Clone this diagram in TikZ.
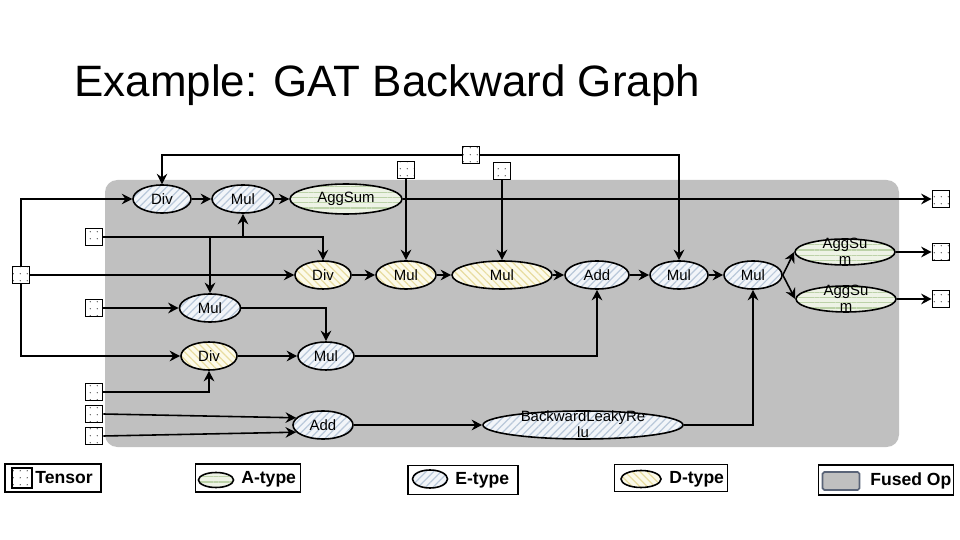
\documentclass[tikz,border=0pt]{standalone}
\usepackage{fontspec}
\setmainfont{Liberation Sans}
\usepackage{tikz}
\usetikzlibrary{shapes,arrows.meta,patterns.meta}

\definecolor{fusedgray}{RGB}{192,192,192}
\definecolor{fusedrim}{RGB}{90,100,120}
\definecolor{eline}{RGB}{185,200,218}
\definecolor{eback}{RGB}{242,245,249}
\definecolor{dline}{RGB}{232,220,160}
\definecolor{dback}{RGB}{252,250,234}
\definecolor{aline}{RGB}{188,210,168}
\definecolor{aback}{RGB}{238,243,230}

\newcommand{\twoline}[2]{\raisebox{-2.5pt}[0pt][0pt]{\begin{tabular}{@{}c@{}}#1\\[-1pt]#2\end{tabular}}}

\tikzset{
	wd/.style={minimum width=#1*0.02cm},
	op/.style={ellipse, draw, line width=0.9pt, inner sep=0pt, minimum height=28*0.02cm, font=\fontsize{8.5}{10}\selectfont},
	etype/.style={op, preaction={fill=eback}, pattern={Lines[angle=45,distance=3pt,line width=0.7pt]}, pattern color=eline},
	dtype/.style={op, preaction={fill=dback}, pattern={Lines[angle=-45,distance=3pt,line width=0.7pt]}, pattern color=dline},
	atype/.style={op, preaction={fill=aback}, pattern={Lines[angle=0,distance=3pt,line width=0.7pt]}, pattern color=aline},
	tensor/.style={draw, line width=0.9pt, minimum size=17*0.02cm, inner sep=0pt, preaction={fill=white}, pattern={Dots[distance=4pt,radius=0.4pt]}, pattern color=black!75},
	arr/.style={-{Stealth[length=6pt,width=6pt,inset=2pt]}, line width=0.9pt},
	legbox/.style={draw, line width=1pt, fill=white, inner sep=0pt},
	legtext/.style={anchor=west, inner sep=0pt, font=\fontsize{10}{12}\selectfont\bfseries}
}

\begin{document}
\begin{tikzpicture}[x=0.02cm,y=-0.02cm]
	\useasboundingbox (0,0) rectangle (960,540);
	
	% Draw title
	\node[anchor=base west, inner sep=0pt, font=\fontsize{25}{30}\selectfont] (title) at (74,97) {Example: GAT Backward Graph};
	
	% Draw fused op
	\fill[fusedgray, rounded corners=7pt] (105,180) rectangle (899,447);
	
	% Draw tensors
	\node[tensor] (t1) at (21,275) {};
	\node[tensor] (t2) at (94,237) {};
	\node[tensor] (t3) at (94,308) {};
	\node[tensor] (t4) at (94,392) {};
	\node[tensor] (t5) at (94,414) {};
	\node[tensor] (t6) at (94,436) {};
	\node[tensor] (t7) at (406,170) {};
	\node[tensor] (t8) at (471,155) {};
	\node[tensor] (t9) at (502,171) {};
	\node[tensor] (t10) at (941,199) {};
	\node[tensor] (t11) at (941,252) {};
	\node[tensor] (t12) at (941,299) {};
	
	% Draw ops
	\node[etype, wd=58] (div1) at (162,199) {Div};
	\node[etype, wd=62] (mul1) at (243,199) {Mul};
	\node[atype, wd=112, minimum height=30*0.02cm] (agg1) at (346,199) {AggSum};
	\node[dtype, wd=56] (div2) at (323,275) {Div};
	\node[dtype, wd=60] (mul2) at (406,275) {Mul};
	\node[dtype, wd=100] (mul3) at (502,275) {Mul};
	\node[etype, wd=64] (add1) at (597,275) {Add};
	\node[etype, wd=58] (mul4) at (679,275) {Mul};
	\node[etype, wd=58] (mul5) at (753,275) {Mul};
	\node[atype, wd=100, minimum height=26*0.02cm] (agg2) at (845,252) {\twoline{AggSu}{m}};
	\node[atype, wd=100, minimum height=26*0.02cm] (agg3) at (846,299) {\twoline{AggSu}{m}};
	\node[etype, wd=61] (mul6) at (210,308) {Mul};
	\node[dtype, wd=56] (div3) at (209,356) {Div};
	\node[etype, wd=56] (mul7) at (326,356) {Mul};
	\node[etype, wd=60] (add2) at (323,425) {Add};
	\node[etype, wd=200] (blr) at (583,425) {\twoline{BackwardLeakyRe}{lu}};
	
	% Draw edges
	\draw[arr] (t8.west) -| (div1.north);
	\draw[arr] (t8.east) -| (mul4.north);
	\draw[arr] (t1.north) |- (div1.west);
	\draw[arr] (t1.east) -- (div2.west);
	\draw[arr] (t1.south) |- (div3.west);
	\draw[arr] (t2.east) -| (div2.north);
	\draw[arr] (t2.east -| mul1) -- (mul1.south);
	\draw[arr] (t2.east -| mul6) -- (mul6.north);
	\draw[arr] (div1) -- (mul1);
	\draw[arr] (mul1) -- (agg1);
	\draw[arr] (agg1.east) -- (t10.west);
	\draw[arr] (div2) -- (mul2);
	\draw[arr] (mul2) -- (mul3);
	\draw[arr] (mul3) -- (add1);
	\draw[arr] (add1) -- (mul4);
	\draw[arr] (mul4) -- (mul5);
	\draw[arr] (t7.south) -- (mul2.north);
	\draw[arr] (t9.south) -- (mul3.north);
	\draw[arr] (mul5.east) -- (agg2.west);
	\draw[arr] (mul5.east) -- (agg3.west);
	\draw[arr] (agg2.east) -- (t11.west);
	\draw[arr] (agg3.east) -- (t12.west);
	\draw[arr] (t3.east) -- (mul6.west);
	\draw[arr] (mul6.east) -| (mul7.north);
	\draw[arr] (div3.east) -- (mul7.west);
	\draw[arr] (mul7.east) -| (add1.south);
	\draw[arr] (t4.east) -| (div3.south);
	\draw[arr] (t5.east) -- (add2.165);
	\draw[arr] (t6.east) -- (add2.195);
	\draw[arr] (add2.east) -- (blr.west);
	\draw[arr] (blr.east) -| (mul5.south);
	
	% Draw legend
	\node[legbox, minimum width=96*0.02cm, minimum height=28*0.02cm] (legT) at (53,478) {};
	\node[tensor, minimum size=20*0.02cm] (legTs) at (22,478) {};
	\node[legtext] (legTt) at (35,478) {Tensor};
	\node[legbox, minimum width=105*0.02cm, minimum height=28*0.02cm] (legA) at (248,478) {};
	\node[atype, wd=35, minimum height=15*0.02cm] (legAs) at (216,480) {};
	\node[legtext] (legAt) at (241,479) {A-type};
	\node[legbox, minimum width=110*0.02cm, minimum height=29*0.02cm] (legE) at (463,480) {};
	\node[etype, wd=35, minimum height=18*0.02cm] (legEs) at (430,479) {};
	\node[legtext] (legEt) at (455,480) {E-type};
	\node[legbox, minimum width=113*0.02cm, minimum height=27*0.02cm] (legD) at (671,478) {};
	\node[dtype, wd=40, minimum height=17*0.02cm] (legDs) at (641,479) {};
	\node[legtext] (legDt) at (669,479) {D-type};
	\node[legbox, minimum width=135*0.02cm, minimum height=30*0.02cm] (legF) at (886,480) {};
	\node[draw=fusedrim, fill=fusedgray, line width=1pt, rounded corners=1pt, minimum width=37*0.02cm, minimum height=18*0.02cm, inner sep=0pt] (legFs) at (841,481) {};
	\node[legtext] (legFt) at (870,481) {Fused Op};
	
\end{tikzpicture}
\end{document}
